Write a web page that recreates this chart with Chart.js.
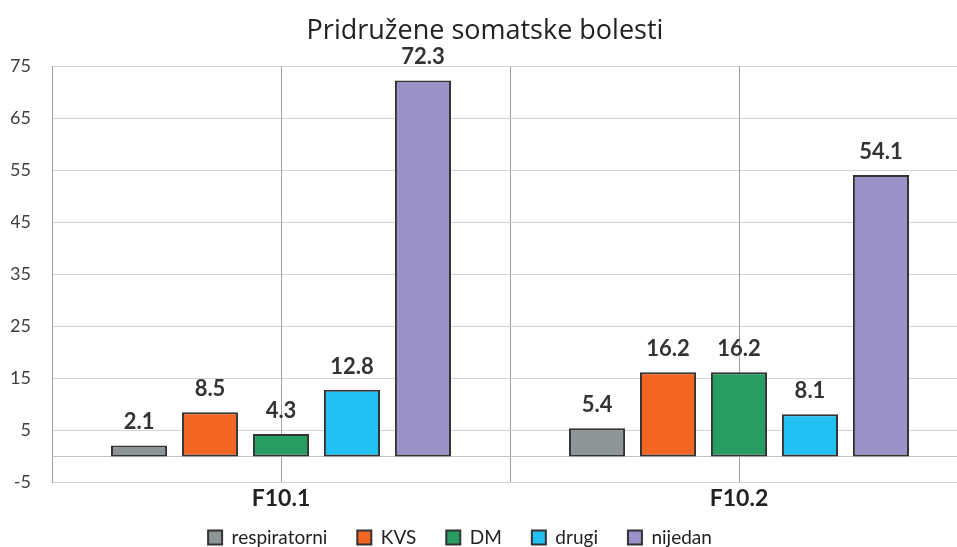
<!DOCTYPE html>
<html>
<head>
<meta charset="utf-8">
<script src="https://cdn.jsdelivr.net/npm/chart.js@4.4.0/dist/chart.umd.min.js"></script>
<style>
  body { margin: 0; background: #fff; overflow: hidden; }
  #wrap { width: 985px; height: 547px; }
</style>
</head>
<body>
<div id="wrap"><canvas id="chart"></canvas></div>
<script>
const categories = ['F10.1', 'F10.2']
const seriesNames = ['respiratorni', 'KVS', 'DM', 'drugi', 'nijedan']
const respiratorni = [2.1, 5.4]
const kvs = [8.5, 16.2]
const dm = [4.3, 16.2]
const drugi = [12.8, 8.1]
const nijedan = [72.3, 54.1]
const seriesColors = ['#8e9597', '#f26522', '#289d63', '#22c1f1', '#9b92c8']

const seriesValues = [respiratorni, kvs, dm, drugi, nijedan]

const FONT = 'Lato, "Open Sans", sans-serif'

// vertical lines at category centres and a line at zero, behind the bars
const extraLines = {
    id: 'extraLines',
    beforeDatasetsDraw(chart) {
        const ctx = chart.ctx
        const area = chart.chartArea
        const x = chart.scales.x
        const y = chart.scales.y
        ctx.save()
        ctx.lineWidth = 1
        ctx.strokeStyle = '#a0a0a0'
        categories.forEach((c, i) => {
            const px = Math.round(x.getPixelForValue(i)) + 0.5
            ctx.beginPath()
            ctx.moveTo(px, area.top)
            ctx.lineTo(px, area.bottom)
            ctx.stroke()
        })
        ctx.strokeStyle = '#c4c4c4'
        const py = Math.round(y.getPixelForValue(0)) + 0.5
        ctx.beginPath()
        ctx.moveTo(area.left, py)
        ctx.lineTo(area.right, py)
        ctx.stroke()
        ctx.restore()
    }
}

// values above bars
const valueLabels = {
    id: 'valueLabels',
    afterDatasetsDraw(chart) {
        const ctx = chart.ctx
        ctx.save()
        ctx.font = 'bold 22px ' + FONT
        ctx.fillStyle = '#333'
        ctx.textAlign = 'center'
        ctx.textBaseline = 'alphabetic'
        chart.data.datasets.forEach((ds, di) => {
            const meta = chart.getDatasetMeta(di)
            meta.data.forEach((bar, i) => {
                ctx.fillText(ds.data[i].toFixed(1), bar.x, bar.y - 16)
            })
        })
        ctx.restore()
    }
}

// centre title and legend on the visible part, drop legend a bit
const centerBlocks = {
    id: 'centerBlocks',
    afterLayout(chart) {
        if (chart.titleBlock) {
            chart.titleBlock.left = 0
            chart.titleBlock.right = 970
        }
        if (chart.legend) {
            chart.legend.left = 0
            chart.legend.right = 920
            chart.legend.top -= 16
            chart.legend.bottom -= 16
        }
    }
}

const data = {
    labels: categories,
    datasets: seriesNames.map((name, i) => ({
        label: name,
        data: seriesValues[i],
        backgroundColor: seriesColors[i],
        borderColor: '#333',
        borderWidth: 2,
        borderSkipped: false,
        categoryPercentage: 0.775,
        barPercentage: 0.79
    }))
}

const config = {
    type: 'bar',
    data: data,
    options: {
        responsive: true,
        maintainAspectRatio: false,
        animation: false,
        layout: {
            padding: { left: 11, right: 17, top: 11, bottom: -26 }
        },
        plugins: {
            title: {
                display: true,
                text: 'Pridružene somatske bolesti',
                color: '#222',
                font: { family: '"Open Sans", sans-serif', size: 27, weight: 'normal' },
                padding: { top: 4, bottom: 19 }
            },
            legend: {
                position: 'bottom',
                labels: {
                    color: '#222',
                    font: { family: FONT, size: 19 },
                    boxWidth: 14,
                    boxHeight: 14,
                    padding: 30
                }
            },
            tooltip: { enabled: false }
        },
        scales: {
            x: {
                grid: { color: '#a0a0a0', drawTicks: false },
                border: { color: '#d0d0d0' },
                ticks: {
                    color: '#222',
                    font: { family: FONT, size: 23, weight: 'bold' },
                    padding: 2
                }
            },
            y: {
                min: -5,
                max: 75,
                afterFit: (scale) => { scale.width = 41 },
                ticks: {
                    stepSize: 10,
                    color: '#404040',
                    font: { family: FONT, size: 18 },
                    padding: 21
                },
                grid: { color: '#d4d4d4', drawTicks: false },
                border: { color: '#a0a0a0' }
            }
        }
    },
    plugins: [extraLines, valueLabels, centerBlocks]
}

const myChart = new Chart(document.getElementById('chart'), config)
</script>
</body>
</html>
